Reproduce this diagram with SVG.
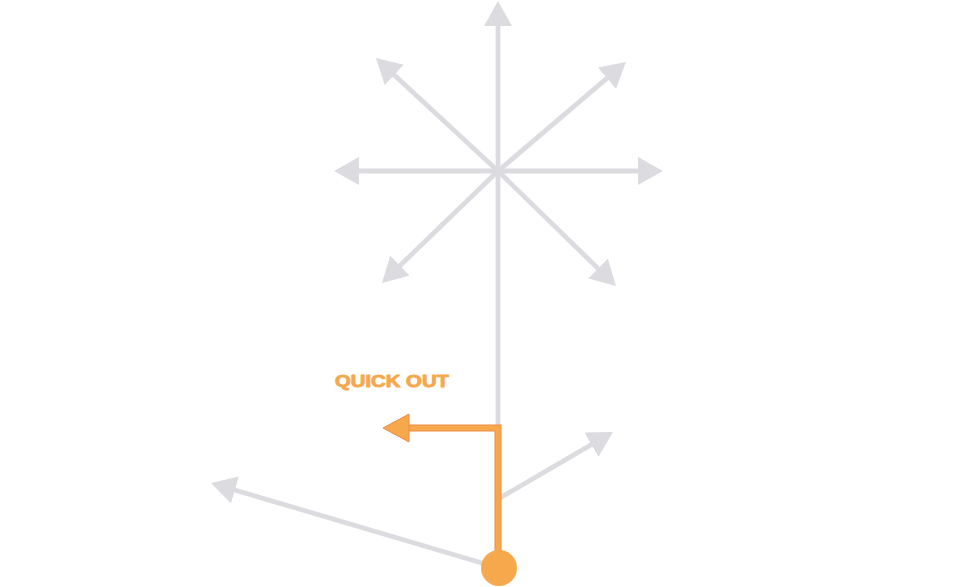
<svg xmlns="http://www.w3.org/2000/svg" width="972" height="587" viewBox="0 0 972 587">
<style>
.g{stroke:#dcdce0;stroke-width:4.8;fill:none;marker-end:url(#gh)}
.gl{stroke:#dcdce0;stroke-width:4.8;fill:none}
.o1{stroke:#f08c44;stroke-width:7;fill:none;stroke-linejoin:miter}
.o2{stroke:#f6a84c;stroke-width:5;fill:none;stroke-linejoin:miter}
.lbl{font-family:"Liberation Sans",Arial,sans-serif;font-weight:900;font-size:17px;fill:#f6a84c;stroke:#f6a84c;stroke-width:0.9;stroke-linejoin:round}
</style>
<defs>
<marker id="gh" markerUnits="userSpaceOnUse" markerWidth="26" markerHeight="28" viewBox="0 0 26 28" refX="3" refY="14" orient="auto">
<path d="M0,0 L25,14 L0,28 z" fill="#dcdce0"/>
</marker>
</defs>
<rect width="972" height="587" fill="#ffffff"/>
<g id="connectors">
<line class="gl" x1="498" y1="171" x2="498" y2="430"/>
<line class="g" x1="498" y1="171" x2="498" y2="23"/>
<line class="g" x1="498" y1="171" x2="392.1" y2="73"/>
<line class="g" x1="498" y1="171" x2="609.2" y2="76.3"/>
<line class="g" x1="498" y1="171" x2="356" y2="171"/>
<line class="g" x1="498" y1="171" x2="641" y2="171"/>
<line class="g" x1="498" y1="171" x2="397.8" y2="267.7"/>
<line class="g" x1="498" y1="171" x2="600.2" y2="270.6"/>
<line class="g" x1="498" y1="499" x2="594" y2="443.1"/>
<line class="g" x1="499" y1="568" x2="232.1" y2="489.2"/>
</g>
<g id="quick-out-route">
<path class="o1" d="M498,568 L498,428 L405,428"/>
<path class="o2" d="M498,568 L498,428 L405,428"/>
<path d="M409,414 L383,428 L409,442 z" fill="#f6a84c" stroke="#f08c44" stroke-width="1"/>
</g>
<g id="player">
<circle cx="499" cy="568" r="18" fill="#f6a84c"/>
</g>
<g id="label">
<text class="lbl" x="335" y="387" textLength="114" lengthAdjust="spacingAndGlyphs">QUICK OUT</text>
</g>
</svg>
